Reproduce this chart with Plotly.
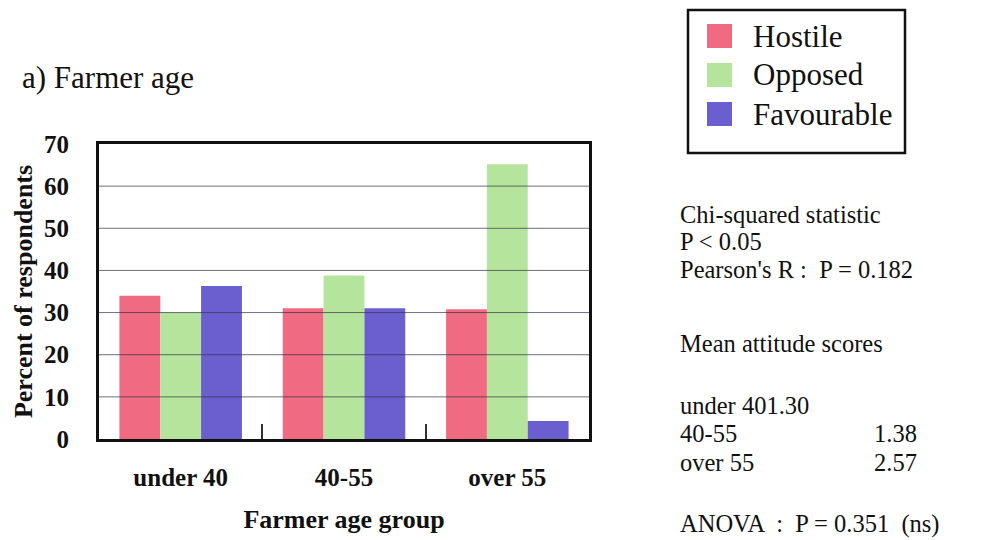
import plotly.graph_objects as go

# Survey data: attitude towards the scheme by farmer age group
age_groups = ["under 40", "40-55", "over 55"]
attitudes = ["Hostile", "Opposed", "Favourable"]
hostile = [34.0, 31.0, 30.8]
opposed = [30.0, 38.8, 65.2]
favourable = [36.3, 31.0, 4.3]
y_ticks = [0, 10, 20, 30, 40, 50, 60, 70]

stats_lines = [
    "Chi-squared statistic",
    "P < 0.05",
    "Pearson's R :  P = 0.182",
]
mean_title = "Mean attitude scores"
mean_rows = [("under 40", "1.30"), ("40-55", "1.38"), ("over 55", "2.57")]
anova_line = "ANOVA  :  P = 0.351  (ns)"

colors = {"Hostile": "#f06a82", "Opposed": "#b5e59c", "Favourable": "#6b5fcf"}
serif = "Liberation Serif"
ink = "#111"

# plot area in pixels
L, R, T, B = 99, 589, 144, 439
W, H = 986, 540

def px(xp, yp):
    """pixel position -> paper coordinates"""
    return (xp - L) / (R - L), (B - yp) / (B - T)

fig = go.Figure()
for name, vals in zip(attitudes, [hostile, opposed, favourable]):
    fig.add_trace(go.Bar(
        x=age_groups, y=vals, name=name, showlegend=False,
        marker=dict(color=colors[name], line=dict(width=0)),
    ))

# horizontal rules drawn over the bars
for t in y_ticks[1:-1]:
    fig.add_shape(type="line", xref="paper", yref="y", x0=0, x1=1, y0=t, y1=t,
                  line=dict(color="rgba(50,50,70,0.7)", width=1), layer="above")

fig.update_layout(
    width=W, height=H,
    margin=dict(l=L, r=W - R, t=T, b=H - B),
    paper_bgcolor="white", plot_bgcolor="white",
    barmode="group", bargap=0.25, bargroupgap=0,
    font=dict(family=serif, color=ink),
    showlegend=False,
    xaxis=dict(
        type="category", showgrid=False, showline=True, linecolor=ink, linewidth=3,
        mirror=True, ticks="inside", tickson="boundaries", ticklen=15, tickcolor="#333",
        tickwidth=1.5, ticklabelstandoff=14,
        tickfont=dict(family=serif, size=25, color=ink, weight="bold"),
        title=dict(text="<b>Farmer age group</b>", font=dict(family=serif, size=26), standoff=20),
    ),
    yaxis=dict(
        range=[0, 70], tickvals=y_ticks, showgrid=False, zeroline=False,
        showline=True, linecolor=ink, linewidth=3, mirror=True, ticks="",
        ticklabelstandoff=22,
        tickfont=dict(family=serif, size=25, color=ink, weight="bold"),
        title=dict(text="<b>Percent of respondents</b>", font=dict(family=serif, size=26), standoff=4),
    ),
)

def label(text, xp, yp, size=24.5, anchor="left"):
    xx, yy = px(xp, yp)
    fig.add_annotation(text=text, xref="paper", yref="paper", x=xx, y=yy,
                       xanchor=anchor, yanchor="middle", showarrow=False,
                       font=dict(family=serif, size=size, color=ink))

label("a) Farmer age", 20, 78, size=31)

# legend box
x0, y0 = px(688, 153)
x1, y1 = px(905, 10)
fig.add_shape(type="rect", xref="paper", yref="paper", x0=x0, y0=y0, x1=x1, y1=y1,
              line=dict(color=ink, width=2.5), fillcolor="white", layer="above")
for i, name in enumerate(attitudes):
    cy = 36 + i * 39
    sx0, sy0 = px(707, cy + 12)
    sx1, sy1 = px(732, cy - 12)
    fig.add_shape(type="rect", xref="paper", yref="paper", x0=sx0, y0=sy0, x1=sx1, y1=sy1,
                  line=dict(width=0), fillcolor=colors[name], layer="above")
    label(name, 751, cy, size=31)

# statistics block on the right
for i, s in enumerate(stats_lines):
    label(s, 678, 214 + i * 27.5)
label(mean_title, 678, 343)
for i, (grp, val) in enumerate(mean_rows):
    yp = 405 + i * 28.5
    if i == 0:
        label(grp + val, 678, yp)
    else:
        label(grp, 678, yp)
        label(val, 872, yp)
label(anova_line, 678, 524)

fig.write_html("out.html")
